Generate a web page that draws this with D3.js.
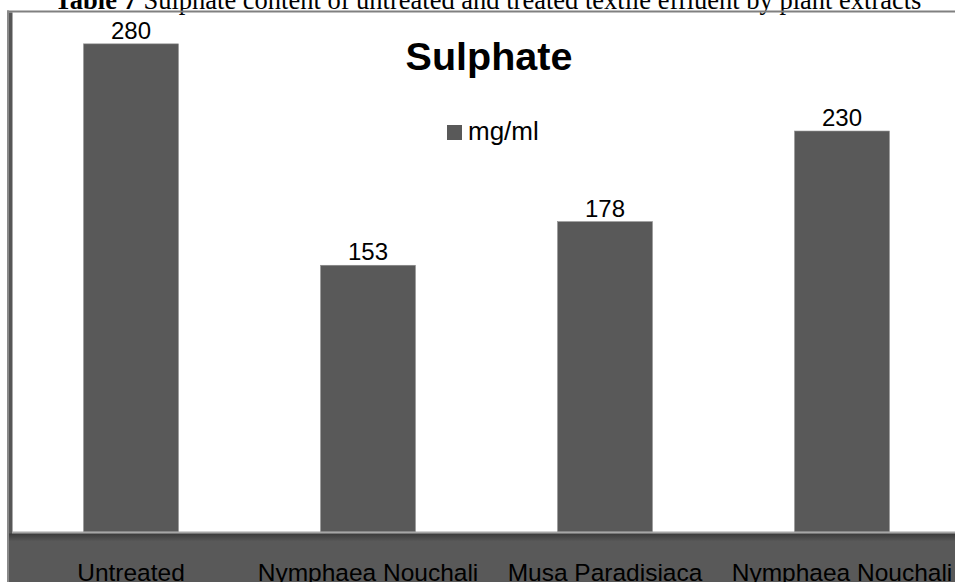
<!DOCTYPE html>
<html>
<head>
<meta charset="utf-8">
<script src="https://cdn.jsdelivr.net/npm/d3@7"></script>
<style>
  html, body { margin: 0; padding: 0; background: #fff; overflow: hidden; }
  svg { display: block; }
</style>
</head>
<body>
<svg id="chart" width="955" height="582"></svg>
<script>
// ---- data ----
const categories = ["Untreated", "Nymphaea Nouchali", "Musa Paradisiaca", "Nymphaea Nouchali"];
const values = [280, 153, 178, 230];
const seriesName = "mg/ml";
const chartTitle = "Sulphate";
const captionBold = "Table 7";
const captionRest = " Sulphate content of untreated and treated textile effluent by plant extracts";

// ---- layout ----
const W = 955, H = 582;
const svg = d3.select("#chart");
const barColor = "#595959";
const plotLeft = 12.5, plotRight = 960.5;
const plotTop = 9, baseY = 532;

const idx = categories.map((d, i) => i);
const x = d3.scaleBand().domain(idx).range([plotLeft, plotRight]).paddingInner(0.6).paddingOuter(0.3);
const y = d3.scaleLinear().domain([0, 300]).range([baseY, plotTop]);

// caption (clipped at top, as in the reference)
const cap = svg.append("text")
  .attr("x", 488).attr("y", 8.5)
  .attr("text-anchor", "middle")
  .attr("font-family", "'Liberation Serif', 'Times New Roman', serif")
  .attr("font-size", 26.5)
  .attr("fill", "#000");
cap.append("tspan").attr("font-weight", "bold").text(captionBold);
cap.append("tspan").text(captionRest);

// frame
svg.append("rect").attr("x", 7).attr("y", 10.5).attr("width", W - 7).attr("height", 2).attr("fill", "#808080");
svg.append("rect").attr("x", 7).attr("y", 10.5).attr("width", 2).attr("height", H - 10.5).attr("fill", "#8a8a8a");
svg.append("rect").attr("x", 9).attr("y", 12.5).attr("width", 3.5).attr("height", H - 12.5).attr("fill", "#575757");

// bars
svg.append("g").selectAll("rect").data(values).join("rect")
  .attr("x", (d, i) => x(i))
  .attr("y", d => y(d))
  .attr("width", x.bandwidth())
  .attr("height", d => y(0) - y(d))
  .attr("fill", barColor)
  .attr("stroke", "#8c8c8c")
  .attr("stroke-width", 0.6);

// value labels
svg.append("g").selectAll("text").data(values).join("text")
  .attr("x", (d, i) => x(i) + x.bandwidth() / 2)
  .attr("y", d => y(d) - 5)
  .attr("text-anchor", "middle")
  .attr("font-family", "'Liberation Sans', Arial, sans-serif")
  .attr("font-size", 24)
  .attr("fill", "#000")
  .text(d => d);

// title
svg.append("text")
  .attr("x", 489).attr("y", 70)
  .attr("text-anchor", "middle")
  .attr("font-family", "'Liberation Sans', Arial, sans-serif")
  .attr("font-weight", "bold")
  .attr("font-size", 39.5)
  .attr("fill", "#000")
  .text(chartTitle);

// legend
svg.append("rect").attr("x", 447).attr("y", 125).attr("width", 15).attr("height", 15).attr("fill", barColor);
svg.append("text")
  .attr("x", 468).attr("y", 140)
  .attr("font-family", "'Liberation Sans', Arial, sans-serif")
  .attr("font-size", 26)
  .attr("fill", "#000")
  .text(seriesName);

// bottom axis band
const defs = svg.append("defs");
const grad = defs.append("linearGradient").attr("id", "shadow").attr("x1", 0).attr("y1", 0).attr("x2", 0).attr("y2", 1);
grad.append("stop").attr("offset", "0%").attr("stop-color", "#3a3a3a");
grad.append("stop").attr("offset", "100%").attr("stop-color", "#595959");
svg.append("rect").attr("x", 7).attr("y", baseY).attr("width", W - 7).attr("height", H - baseY).attr("fill", barColor);
svg.append("rect").attr("x", 9).attr("y", baseY + 1.5).attr("width", W - 9).attr("height", 8).attr("fill", "url(#shadow)");
svg.append("rect").attr("x", 12).attr("y", baseY - 0.5).attr("width", W - 12).attr("height", 2).attr("fill", "#a6a6a6");
svg.append("rect").attr("x", 7).attr("y", baseY).attr("width", 2).attr("height", H - baseY).attr("fill", "#8a8a8a");

const axis = d3.axisBottom(x).tickSize(0).tickFormat(i => categories[i]);
const gx = svg.append("g").attr("transform", `translate(0,${baseY})`).call(axis);
gx.select(".domain").remove();
gx.selectAll("text")
  .attr("y", 49)
  .attr("dy", 0)
  .attr("font-family", "'Liberation Sans', Arial, sans-serif")
  .attr("font-size", 24.5)
  .attr("fill", "#000");
</script>
</body>
</html>
